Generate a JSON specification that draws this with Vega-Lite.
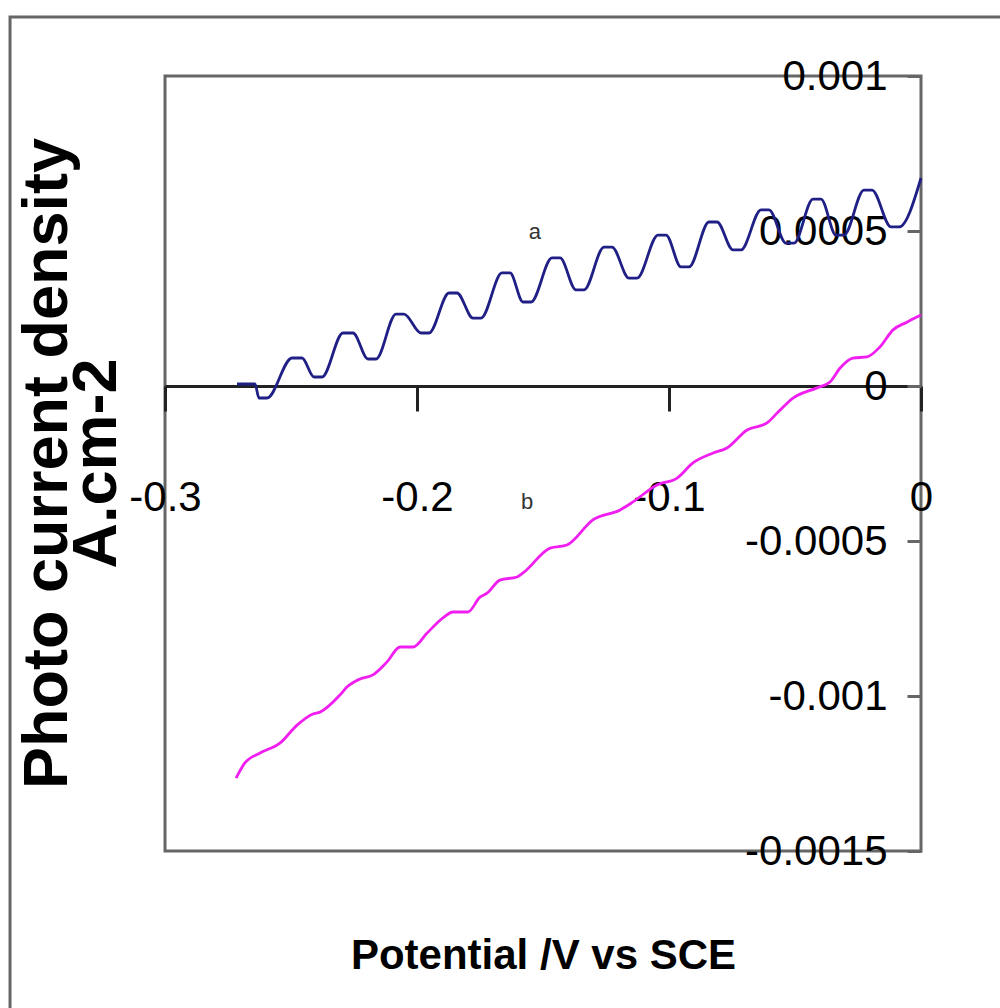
{
  "$schema": "https://vega.github.io/schema/vega-lite/v6.json",
  "width": 756,
  "height": 775,
  "autosize": {"type": "none"},
  "padding": {"left": 165, "top": 76, "right": 79, "bottom": 157},
  "background": "white",
  "config": {
    "view": {"stroke": "#666666", "strokeWidth": 3},
    "font": "Liberation Sans"
  },
  "title": {
    "text": ["Photo current density", "A.cm-2"],
    "orient": "left",
    "anchor": "middle",
    "font": "Liberation Sans",
    "fontSize": 63,
    "fontWeight": "bold",
    "lineHeight": 49,
    "color": "black",
    "offset": -120
  },
  "datasets": {
    "curves": [
      {"series": "a", "V": -0.27143, "J": 0.0000065},
      {"series": "a", "V": -0.26429, "J": 0.0000065},
      {"series": "a", "V": -0.26270, "J": -0.0000387},
      {"series": "a", "V": -0.25952, "J": -0.0000387},
      {"series": "a", "V": -0.24960, "J": 0.0000903},
      {"series": "a", "V": -0.24563, "J": 0.0000903},
      {"series": "a", "V": -0.24087, "J": 0.0000290},
      {"series": "a", "V": -0.23770, "J": 0.0000290},
      {"series": "a", "V": -0.22937, "J": 0.000171},
      {"series": "a", "V": -0.22540, "J": 0.000171},
      {"series": "a", "V": -0.21944, "J": 0.0000871},
      {"series": "a", "V": -0.21627, "J": 0.0000871},
      {"series": "a", "V": -0.20833, "J": 0.000232},
      {"series": "a", "V": -0.20516, "J": 0.000232},
      {"series": "a", "V": -0.19841, "J": 0.000171},
      {"series": "a", "V": -0.19524, "J": 0.000171},
      {"series": "a", "V": -0.18730, "J": 0.000300},
      {"series": "a", "V": -0.18413, "J": 0.000300},
      {"series": "a", "V": -0.17778, "J": 0.000219},
      {"series": "a", "V": -0.17460, "J": 0.000219},
      {"series": "a", "V": -0.16627, "J": 0.000365},
      {"series": "a", "V": -0.16310, "J": 0.000365},
      {"series": "a", "V": -0.15794, "J": 0.000271},
      {"series": "a", "V": -0.15476, "J": 0.000271},
      {"series": "a", "V": -0.14643, "J": 0.000413},
      {"series": "a", "V": -0.14325, "J": 0.000413},
      {"series": "a", "V": -0.13690, "J": 0.000310},
      {"series": "a", "V": -0.13373, "J": 0.000310},
      {"series": "a", "V": -0.12579, "J": 0.000448},
      {"series": "a", "V": -0.12262, "J": 0.000448},
      {"series": "a", "V": -0.11587, "J": 0.000348},
      {"series": "a", "V": -0.11270, "J": 0.000348},
      {"series": "a", "V": -0.10437, "J": 0.000487},
      {"series": "a", "V": -0.10119, "J": 0.000487},
      {"series": "a", "V": -0.09524, "J": 0.000384},
      {"series": "a", "V": -0.09206, "J": 0.000384},
      {"series": "a", "V": -0.08413, "J": 0.000529},
      {"series": "a", "V": -0.08095, "J": 0.000529},
      {"series": "a", "V": -0.07460, "J": 0.000439},
      {"series": "a", "V": -0.07143, "J": 0.000439},
      {"series": "a", "V": -0.06349, "J": 0.000568},
      {"series": "a", "V": -0.06032, "J": 0.000568},
      {"series": "a", "V": -0.05357, "J": 0.000461},
      {"series": "a", "V": -0.05040, "J": 0.000461},
      {"series": "a", "V": -0.04286, "J": 0.000603},
      {"series": "a", "V": -0.03968, "J": 0.000603},
      {"series": "a", "V": -0.03373, "J": 0.000487},
      {"series": "a", "V": -0.03056, "J": 0.000487},
      {"series": "a", "V": -0.02262, "J": 0.000632},
      {"series": "a", "V": -0.01944, "J": 0.000632},
      {"series": "a", "V": -0.01190, "J": 0.000513},
      {"series": "a", "V": -0.00873, "J": 0.000513},
      {"series": "a", "V": 0.0, "J": 0.000671},
      {"series": "b", "V": -0.2718, "J": -0.001265},
      {"series": "b", "V": -0.2683, "J": -0.001216},
      {"series": "b", "V": -0.2623, "J": -0.001184},
      {"series": "b", "V": -0.2544, "J": -0.001152},
      {"series": "b", "V": -0.2476, "J": -0.001094},
      {"series": "b", "V": -0.2413, "J": -0.001058},
      {"series": "b", "V": -0.2385, "J": -0.001052},
      {"series": "b", "V": -0.2306, "J": -0.000997},
      {"series": "b", "V": -0.2278, "J": -0.000971},
      {"series": "b", "V": -0.2226, "J": -0.000945},
      {"series": "b", "V": -0.2175, "J": -0.000932},
      {"series": "b", "V": -0.2119, "J": -0.000890},
      {"series": "b", "V": -0.2067, "J": -0.000842},
      {"series": "b", "V": -0.2016, "J": -0.000842},
      {"series": "b", "V": -0.1960, "J": -0.000797},
      {"series": "b", "V": -0.1897, "J": -0.000748},
      {"series": "b", "V": -0.1857, "J": -0.000729},
      {"series": "b", "V": -0.1798, "J": -0.000729},
      {"series": "b", "V": -0.1750, "J": -0.000681},
      {"series": "b", "V": -0.1722, "J": -0.000668},
      {"series": "b", "V": -0.1671, "J": -0.000626},
      {"series": "b", "V": -0.1603, "J": -0.000616},
      {"series": "b", "V": -0.1579, "J": -0.000603},
      {"series": "b", "V": -0.1472, "J": -0.000523},
      {"series": "b", "V": -0.1405, "J": -0.000513},
      {"series": "b", "V": -0.1302, "J": -0.000432},
      {"series": "b", "V": -0.1194, "J": -0.000400},
      {"series": "b", "V": -0.1143, "J": -0.000374},
      {"series": "b", "V": -0.1048, "J": -0.000319},
      {"series": "b", "V": -0.0968, "J": -0.000297},
      {"series": "b", "V": -0.0905, "J": -0.000248},
      {"series": "b", "V": -0.0825, "J": -0.000216},
      {"series": "b", "V": -0.0770, "J": -0.000200},
      {"series": "b", "V": -0.0690, "J": -0.000142},
      {"series": "b", "V": -0.0611, "J": -0.000119},
      {"series": "b", "V": -0.0567, "J": -0.000084},
      {"series": "b", "V": -0.0508, "J": -0.000039},
      {"series": "b", "V": -0.0413, "J": -0.000006},
      {"series": "b", "V": -0.0361, "J": 0.000013},
      {"series": "b", "V": -0.0321, "J": 0.000058},
      {"series": "b", "V": -0.0270, "J": 0.000090},
      {"series": "b", "V": -0.0214, "J": 0.000094},
      {"series": "b", "V": -0.0163, "J": 0.000126},
      {"series": "b", "V": -0.0111, "J": 0.000181},
      {"series": "b", "V": -0.0056, "J": 0.000206},
      {"series": "b", "V": 0.0, "J": 0.000229}
    ],
    "labels": [
      {"series": "a", "V": -0.1532, "J": 0.000497},
      {"series": "b", "V": -0.1563, "J": -0.000374}
    ],
    "frame": [{"role": "outer frame"}]
  },
  "layer": [
    {
      "data": {"name": "frame"},
      "mark": {"type": "rect", "fill": "white", "fillOpacity": 0, "stroke": "#666666", "strokeWidth": 3, "strokeOpacity": 1, "clip": false},
      "encoding": {
        "x": {"datum": -0.3615, "type": "quantitative"},
        "x2": {"datum": 0.05},
        "y": {"datum": 0.00119, "type": "quantitative"},
        "y2": {"datum": -0.0021}
      }
    },
    {
      "data": {"name": "curves"},
      "mark": {"type": "line", "strokeWidth": 2.8, "interpolate": "monotone"},
      "encoding": {
        "x": {
          "field": "V",
          "type": "quantitative",
          "scale": {"domain": [-0.3, 0], "nice": false, "zero": false},
          "axis": {
            "orient": "bottom",
            "offset": -465,
            "values": [-0.3, -0.2, -0.1, 0],
            "labelExpr": "'' + datum.value",
            "labelFont": "Liberation Sans",
            "labelFontSize": 42,
            "labelColor": "black",
            "labelPadding": 66,
            "labelFlush": false,
            "labelOverlap": false,
            "labelBound": false,
            "tickSize": 25,
            "tickWidth": 3,
            "tickColor": "#222222",
            "domainColor": "#222222",
            "domainWidth": 3,
            "grid": false,
            "title": "Potential /V vs SCE",
            "titleFont": "Liberation Sans",
            "titleFontSize": 42,
            "titleFontWeight": "bold",
            "titleColor": "black",
            "titleBaseline": "middle",
            "titleY": 569
          }
        },
        "y": {
          "field": "J",
          "type": "quantitative",
          "scale": {"domain": [-0.0015, 0.001], "nice": false, "zero": false},
          "axis": {
            "orient": "right",
            "values": [0.001, 0.0005, 0, -0.0005, -0.001, -0.0015],
            "labelExpr": "'' + datum.value",
            "labelFont": "Liberation Sans",
            "labelFontSize": 42,
            "labelColor": "black",
            "labelAlign": "right",
            "labelBaseline": "middle",
            "labelPadding": -20,
            "labelFlush": false,
            "labelOverlap": false,
            "labelBound": false,
            "tickSize": -14,
            "tickWidth": 3,
            "tickColor": "#666666",
            "domain": false,
            "grid": false,
            "title": null
          }
        },
        "color": {
          "field": "series",
          "type": "nominal",
          "scale": {"domain": ["a", "b"], "range": ["#1f1f85", "#f01ef0"]},
          "legend": null
        }
      }
    },
    {
      "data": {"name": "labels"},
      "mark": {"type": "text", "font": "Liberation Sans", "fontSize": 22, "color": "#333333"},
      "encoding": {
        "x": {"field": "V", "type": "quantitative"},
        "y": {"field": "J", "type": "quantitative"},
        "text": {"field": "series"}
      }
    }
  ]
}
